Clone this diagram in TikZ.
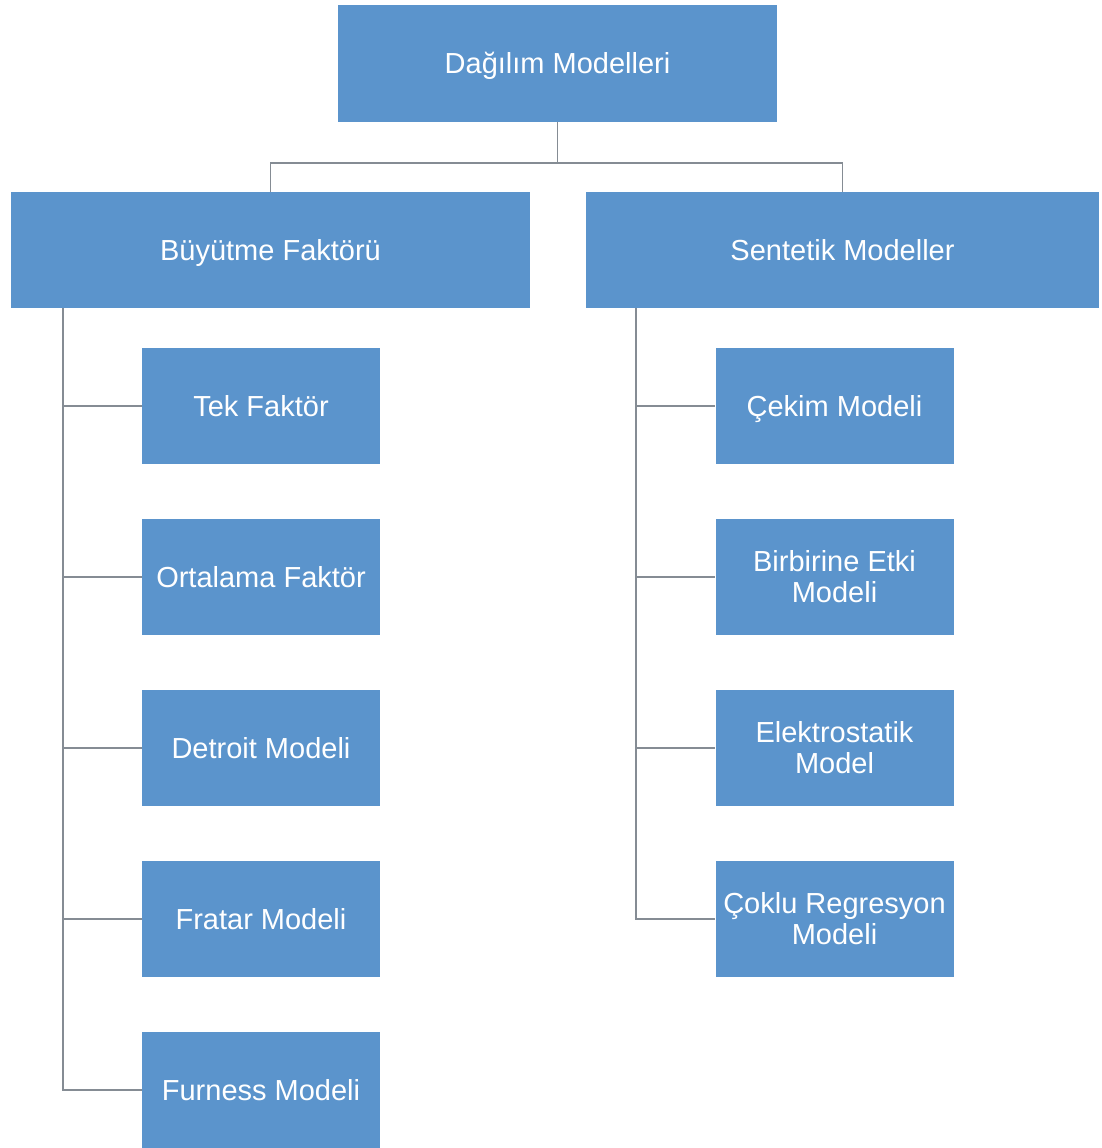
\documentclass[tikz,border=0pt]{standalone}
\usepackage{fontspec}
\setmainfont{Liberation Sans}
\definecolor{boxblue}{HTML}{5B94CC}
\definecolor{linegray}{HTML}{858C94}
\begin{document}
\begin{tikzpicture}[x=1pt,y=-1pt,
  box/.style={rectangle, fill=boxblue, text=white, align=center,
    font=\fontsize{29}{31}\selectfont, inner sep=0pt},
  one/.style={text height=23pt, text depth=3pt},
  bigbox/.style={box, one, minimum width=#1, minimum height=116},
  small/.style={box, minimum width=238, minimum height=116},
  conn/.style={draw=linegray, line width=1.8pt}]
\useasboundingbox (0,0) rectangle (1101,1148);
\fill[white] (0,0) rectangle (1101,1148);

\node[bigbox=439] (root) at (557.5,63.5) {Dağılım Modelleri};
\node[bigbox=519] (bf) at (270.5,250) {Büyütme Faktörü};
\node[bigbox=513] (sm) at (842.5,250) {Sentetik Modeller};

\node[small,one] (l1) at (261,406) {Tek Faktör};
\node[small,one] (l2) at (261,577) {Ortalama Faktör};
\node[small,one] (l3) at (261,748) {Detroit Modeli};
\node[small,one] (l4) at (261,919) {Fratar Modeli};
\node[small,one] (l5) at (261,1090) {Furness Modeli};

\node[small,one] (r1) at (834.5,406) {Çekim Modeli};
\node[small] (r2) at (834.5,577) {Birbirine Etki\\Modeli};
\node[small] (r3) at (834.5,748) {Elektrostatik\\Model};
\node[small] (r4) at (834.5,919) {Çoklu Regresyon\\Modeli};

\coordinate (mid) at (557.5,163);
\draw[conn] (root.south) -- (mid);
\draw[conn] (mid) -| (bf.north);
\draw[conn] (mid) -| (sm.north);

\draw[conn] ([xshift=52]bf.south west) |- (l5.west);
\foreach \n in {l1,l2,l3,l4}
  \draw[conn] ([xshift=52]bf.south west) |- (\n.west);

\draw[conn] ([xshift=50]sm.south west) |- (r4.west);
\foreach \n in {r1,r2,r3}
  \draw[conn] ([xshift=50]sm.south west) |- (\n.west);
\end{tikzpicture}
\end{document}
